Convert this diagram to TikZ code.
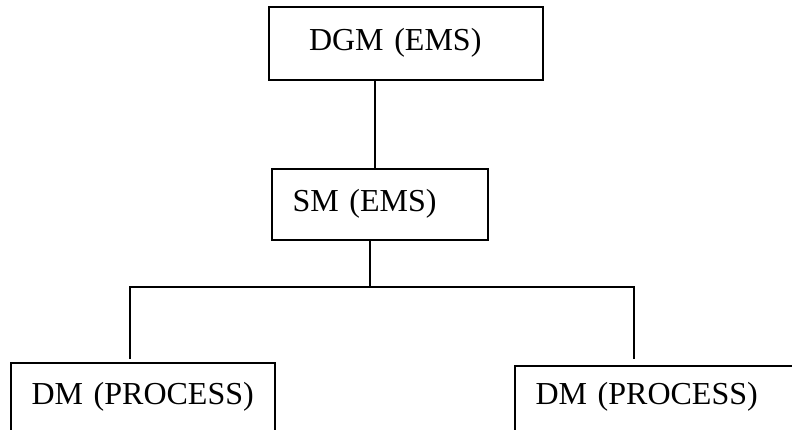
\documentclass[tikz,border=0pt]{standalone}
\usepackage{fontspec}
\setmainfont{Liberation Serif}
\usepackage{tikz}

\begin{document}
\begin{tikzpicture}[x=1pt,y=-1pt,line width=2pt,
  post/.style={draw,line width=2pt,anchor=north west,inner ysep=0pt,inner xsep=20.5pt,align=left,font=\fontsize{32}{38}\selectfont}]
\useasboundingbox (0,0) rectangle (792,429);
\clip (0,0) rectangle (792,429);
\node[post,inner xsep=0pt,text width=274pt,text height=43.5pt,text depth=29.5pt] (dgm) at (268,6) {\hspace*{40pt}DGM (EMS)};
\node[post,text width=175pt,text height=42.7pt,text depth=28.3pt] (sm) at (271,168) {SM (EMS)};
\node[post,text width=223pt,text height=41pt,text depth=80pt] (dmleft) at (10,362) {DM (PROCESS)};
\node[post,text width=279pt,text height=38pt,text depth=80pt] (dmright) at (514,365) {DM (PROCESS)};
\coordinate (upper) at (375,0);
\coordinate (fork) at (370,287);
\coordinate (lleg) at (130,287);
\coordinate (rleg) at (634,287);
\draw (dgm.south -| upper) -- (sm.north -| upper);
\draw (sm.south -| fork) -- (fork);
\draw[shorten <=3pt,shorten >=6pt] (dmleft.north -| lleg) -- (lleg) -- (rleg) -- (dmright.north -| rleg);
\end{tikzpicture}
\end{document}
